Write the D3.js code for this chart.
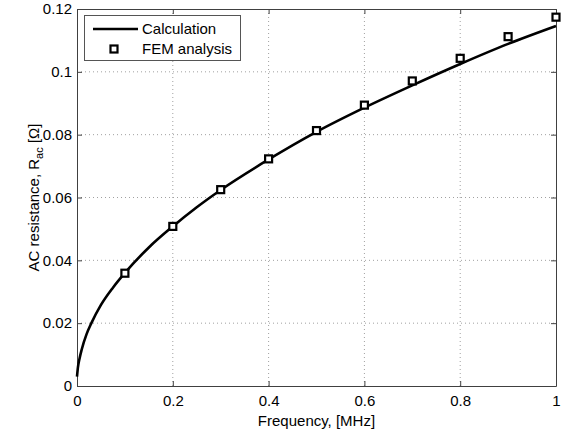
<!DOCTYPE html>
<html>
<head>
<meta charset="utf-8">
<script src="https://cdn.jsdelivr.net/npm/d3@7"></script>
<style>
  body { margin: 0; background: #fff; }
  svg text { font-family: Arial, "Liberation Sans", Helvetica, sans-serif; }
</style>
</head>
<body>
<svg id="chart" width="568" height="436"></svg>
<script>
// Calculation curve
var calcFreq = [0, 0.002, 0.005, 0.01, 0.02, 0.03, 0.05, 0.075, 0.1, 0.15, 0.2, 0.25, 0.3, 0.4, 0.5, 0.6, 0.7, 0.8, 0.9, 1.0];
var calcR = [0.003, 0.006, 0.0085, 0.0117, 0.0165, 0.0200, 0.0258, 0.0313, 0.0360, 0.0441, 0.0508, 0.0569, 0.0624, 0.0721, 0.0809, 0.0886, 0.0957, 0.1025, 0.1089, 0.1146];

// FEM analysis points
var femFreq = [0.1, 0.2, 0.3, 0.4, 0.5, 0.6, 0.7, 0.8, 0.9, 1.0];
var femR = [0.0359, 0.0508, 0.0625, 0.0723, 0.0813, 0.0894, 0.0971, 0.1043, 0.1112, 0.1174];

var xTicks = [0, 0.2, 0.4, 0.6, 0.8, 1];
var yTicks = [0, 0.02, 0.04, 0.06, 0.08, 0.1, 0.12];
var legendLabels = ["Calculation", "FEM analysis"];

var svg = d3.select("#chart");
// plot box ("top" is taken by window.top, so use other names)
var pLeft = 77, pRight = 556, pTop = 9, pBottom = 386;

var x = d3.scaleLinear().domain([0, 1]).range([pLeft, pRight]);
var y = d3.scaleLinear().domain([0, 0.12]).range([pBottom, pTop]);
var fmt = function (d) { return String(+d.toFixed(2)); };

// grid
var grid = svg.append("g");
grid.selectAll(".gx")
  .data(xTicks.slice(1, -1))
  .enter().append("line")
  .attr("x1", d => x(d)).attr("x2", d => x(d))
  .attr("y1", pTop).attr("y2", pBottom)
  .attr("stroke", "#a0a0a0").attr("stroke-dasharray", "1,3");
grid.selectAll(".gy")
  .data(yTicks.slice(1, -1))
  .enter().append("line")
  .attr("y1", d => y(d)).attr("y2", d => y(d))
  .attr("x1", pLeft).attr("x2", pRight)
  .attr("stroke", "#a0a0a0").attr("stroke-dasharray", "1,3");

// axes (ticks inward, MATLAB style)
var xAxis = svg.append("g").attr("transform", "translate(0," + pBottom + ")")
  .call(d3.axisBottom(x).tickValues(xTicks).tickFormat(fmt).tickSizeInner(-5).tickSizeOuter(0).tickPadding(9));
var xAxisTop = svg.append("g").attr("transform", "translate(0," + pTop + ")")
  .call(d3.axisTop(x).tickValues(xTicks).tickFormat("").tickSizeInner(-5).tickSizeOuter(0));
var yAxis = svg.append("g").attr("transform", "translate(" + pLeft + ",0)")
  .call(d3.axisLeft(y).tickValues(yTicks).tickFormat(fmt).tickSizeInner(-5).tickSizeOuter(0).tickPadding(5));
var yAxisRight = svg.append("g").attr("transform", "translate(" + pRight + ",0)")
  .call(d3.axisRight(y).tickValues(yTicks).tickFormat("").tickSizeInner(-5).tickSizeOuter(0));

[xAxis, xAxisTop, yAxis, yAxisRight].forEach(function (g) {
  g.select(".domain").attr("stroke", "#404040");
  g.selectAll(".tick line").attr("stroke", "#404040");
  g.selectAll(".tick text").attr("font-size", 15).attr("fill", "#000")
    .style("font-family", "Arial, 'Liberation Sans', sans-serif");
});

// calculation line
var line = d3.line()
  .x((d, i) => x(calcFreq[i]))
  .y(d => y(d))
  .curve(d3.curveMonotoneX);
svg.append("path")
  .datum(calcR)
  .attr("d", line)
  .attr("fill", "none")
  .attr("stroke", "#000")
  .attr("stroke-width", 2.6);

// FEM markers
svg.selectAll(".fem")
  .data(femR)
  .enter().append("rect")
  .attr("x", (d, i) => x(femFreq[i]) - 3.5)
  .attr("y", d => y(d) - 3.5)
  .attr("width", 7).attr("height", 7)
  .attr("fill", "#fff")
  .attr("stroke", "#000")
  .attr("stroke-width", 2.2);

// legend
var lg = svg.append("g");
lg.append("rect")
  .attr("x", 84.5).attr("y", 15.5).attr("width", 156).attr("height", 45)
  .attr("fill", "#fff").attr("stroke", "#555");
lg.append("line")
  .attr("x1", 93).attr("x2", 138).attr("y1", 29).attr("y2", 29)
  .attr("stroke", "#000").attr("stroke-width", 2.6);
lg.append("rect")
  .attr("x", 114 - 3.5).attr("y", 49 - 3.5).attr("width", 7).attr("height", 7)
  .attr("fill", "#fff").attr("stroke", "#000").attr("stroke-width", 2.2);
lg.selectAll("text")
  .data(legendLabels)
  .enter().append("text")
  .attr("x", 142)
  .attr("y", (d, i) => 34 + i * 20)
  .attr("font-size", 15)
  .text(d => d);

// axis labels
svg.append("text")
  .attr("x", (pLeft + pRight) / 2)
  .attr("y", 426)
  .attr("text-anchor", "middle")
  .attr("font-size", 15)
  .text("Frequency, [MHz]");

var yl = svg.append("text")
  .attr("transform", "translate(39," + ((pTop + pBottom) / 2) + ") rotate(-90)")
  .attr("text-anchor", "middle")
  .attr("font-size", 15);
yl.append("tspan").text("AC resistance, R");
yl.append("tspan").attr("dy", 4).attr("font-size", 11).text("ac");
yl.append("tspan").attr("dy", -4).text(" [Ω]");
</script>
</body>
</html>
